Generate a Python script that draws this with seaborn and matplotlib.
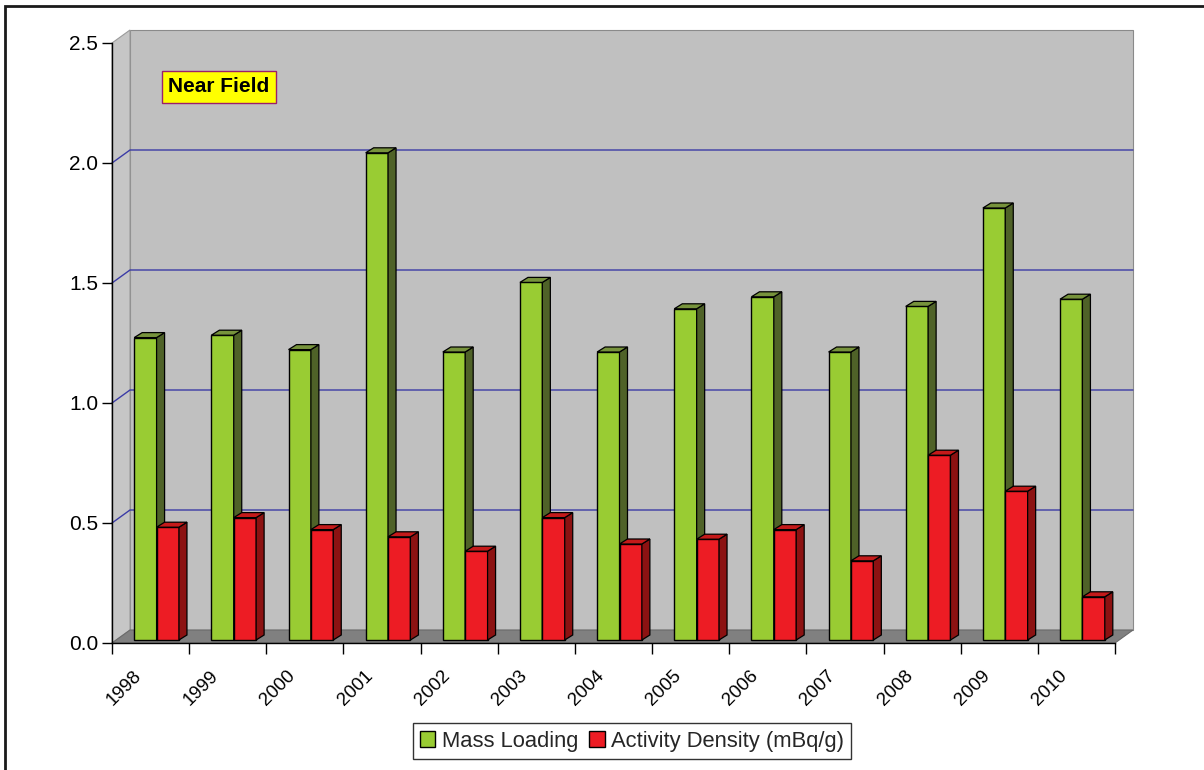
import numpy as np
import pandas as pd
import matplotlib
matplotlib.use("Agg")
import matplotlib.pyplot as plt
import seaborn as sns
from matplotlib.patches import Rectangle, Polygon
from matplotlib.lines import Line2D
from matplotlib.transforms import ScaledTranslation, IdentityTransform

# ---- data -------------------------------------------------------------
years = ["1998", "1999", "2000", "2001", "2002", "2003", "2004",
         "2005", "2006", "2007", "2008", "2009", "2010"]
mass_loading = [1.26, 1.27, 1.21, 2.03, 1.20, 1.49, 1.20,
                1.38, 1.43, 1.20, 1.39, 1.80, 1.42]
activity_density = [0.47, 0.51, 0.46, 0.43, 0.37, 0.51, 0.40,
                     0.42, 0.46, 0.33, 0.77, 0.62, 0.18]
series_names = ["Mass Loading", "Activity Density (mBq/g)"]
y_ticks = [0.0, 0.5, 1.0, 1.5, 2.0, 2.5]
panel_label = "Near Field"

# ---- style ------------------------------------------------------------
sns.set_theme(style="white")
plt.rcParams["font.family"] = ["Liberation Sans", "DejaVu Sans"]

W, H, DPI = 1204, 770, 100
FRONT = ["#99cc33", "#ed1c24"]
SIDE = ["#4f6228", "#8c1212"]
TOP = ["#77933c", "#c41a1a"]
WALL_D = (18, 13)      # depth of the back wall, px
BAR_D = (6, 3)         # depth at which bar fronts sit, px
BAR_T = (8, 5)         # thickness of a bar, px
FS = 15

fig = plt.figure(figsize=(W / DPI, H / DPI), dpi=DPI, facecolor="white")
ax = fig.add_axes([112 / W, 1 - 643 / H, (1115 - 112) / W, (643 - 43) / H])
ax.set_facecolor("none")


def shift(dx, dy):
    return ScaledTranslation(dx / DPI, dy / DPI, fig.dpi_scale_trans)


df = pd.DataFrame({
    "year": years * 2,
    "series": [series_names[0]] * len(years) + [series_names[1]] * len(years),
    "value": mass_loading + activity_density,
})

sns.barplot(data=df, x="year", y="value", hue="series",
            hue_order=series_names, palette=FRONT, saturation=1,
            width=0.58, edgecolor="black", linewidth=1.0, ax=ax, legend=False)

bars = [p for p in ax.patches if isinstance(p, Rectangle)]
ax.set_xlim(-0.5, len(years) - 0.5)
ax.set_ylim(0, 2.5)
ax.autoscale(False)

# ---- walls, floor and gridlines ---------------------------------------
bl = ax.transAxes.transform((0, 0))
br = ax.transAxes.transform((1, 0))
tl = ax.transAxes.transform((0, 1))
d = np.array(WALL_D)

ax.add_patch(Rectangle((0, 0), 1, 1, transform=ax.transAxes + shift(*WALL_D),
                       fc="#c0c0c0", ec="#8a8a8a", lw=0.8, zorder=0.1,
                       clip_on=False))
ax.add_patch(Polygon([bl, bl + d, tl + d, tl], closed=True,
                     transform=IdentityTransform(), fc="#c6c6c6",
                     ec="#9a9a9a", lw=0.8, zorder=0.2, clip_on=False))
ax.add_patch(Polygon([bl, br, br + d, bl + d], closed=True,
                     transform=IdentityTransform(), fc="#808080",
                     ec="#6a6a6a", lw=0.8, zorder=0.3, clip_on=False))

for yv in y_ticks[1:-1]:
    front_l = ax.transData.transform((-0.5, yv))
    front_r = ax.transData.transform((len(years) - 0.5, yv))
    ax.add_line(Line2D([front_l[0], front_l[0] + d[0], front_r[0] + d[0]],
                       [front_l[1], front_l[1] + d[1], front_r[1] + d[1]],
                       transform=IdentityTransform(), color="#3b3ba6",
                       lw=1.0, zorder=0.5, clip_on=False))

# ---- pseudo-3D bars ---------------------------------------------------
n = len(years)
bar_trans = ax.transData + shift(*BAR_D)
t = np.array(BAR_T)
for i, p in enumerate(bars):
    s = 0 if i < n else 1
    z = 3 + s
    p.set_transform(bar_trans)
    p.set_zorder(z)
    p.set_clip_on(False)
    x0, y0 = bar_trans.transform((p.get_x(), 0))
    x1, y1 = bar_trans.transform((p.get_x() + p.get_width(), p.get_height()))
    side = [(x1, y0), (x1 + t[0], y0 + t[1]), (x1 + t[0], y1 + t[1]), (x1, y1)]
    top = [(x0, y1), (x1, y1), (x1 + t[0], y1 + t[1]), (x0 + t[0], y1 + t[1])]
    for pts, col in ((side, SIDE[s]), (top, TOP[s])):
        ax.add_patch(Polygon(pts, closed=True, transform=IdentityTransform(),
                             fc=col, ec="black", lw=0.9, zorder=z,
                             clip_on=False))

# ---- axes -------------------------------------------------------------
for name in ("top", "right"):
    ax.spines[name].set_visible(False)
for name in ("left", "bottom"):
    ax.spines[name].set_color("black")
    ax.spines[name].set_linewidth(1.0)
    ax.spines[name].set_zorder(6)

ax.set_yticks(y_ticks, [f"{v:.1f}" for v in y_ticks])
ax.set_xticks(np.arange(-0.5, n, 1.0), [""] * (n + 1))
ax.set_xticks(np.arange(n), years, minor=True)
ax.tick_params(axis="y", direction="out", length=7, width=1, color="black",
               labelsize=FS, pad=3, left=True, labelcolor="black")
ax.tick_params(axis="x", which="major", direction="out", length=8, width=1,
               color="black", bottom=True)
ax.tick_params(axis="x", which="minor", length=0, labelsize=13.5, pad=22,
               labelcolor="black")
for lab in ax.get_xticklabels(minor=True):
    lab.set_rotation(45)
    lab.set_ha("right")
    lab.set_va("center")
    lab.set_rotation_mode("anchor")
    lab.set_transform(lab.get_transform() + shift(-12, 0))
ax.set_xlabel("")
ax.set_ylabel("")

# ---- legend, label box and frame --------------------------------------
handles = [Rectangle((0, 0), 1, 1, fc=FRONT[k], ec="black", lw=1.0)
           for k in range(2)]
leg = fig.legend(handles, series_names, loc="center",
                 bbox_to_anchor=(632 / W, 1 - 741 / H), ncol=2,
                 frameon=True, fancybox=False, edgecolor="black",
                 fontsize=FS + 0.8, handlelength=0.7, handleheight=0.7,
                 handletextpad=0.3, columnspacing=0.5, borderpad=0.32,
                 borderaxespad=0)
leg.get_frame().set_linewidth(1.0)

fig.text(219 / W, 1 - 87 / H, panel_label, ha="center", va="center",
         fontsize=FS, fontweight="bold", color="black",
         bbox=dict(boxstyle="square,pad=0.3", fc="#ffff00", ec="#9b1f6b",
                   lw=1.0))

fig.add_artist(Rectangle((5 / W, -0.1), 1.2, 1 - 6 / H + 0.1,
                         transform=fig.transFigure, fill=False,
                         ec="#1a1a1a", lw=2.0))

fig.savefig("out.png", dpi=DPI, facecolor="white")
